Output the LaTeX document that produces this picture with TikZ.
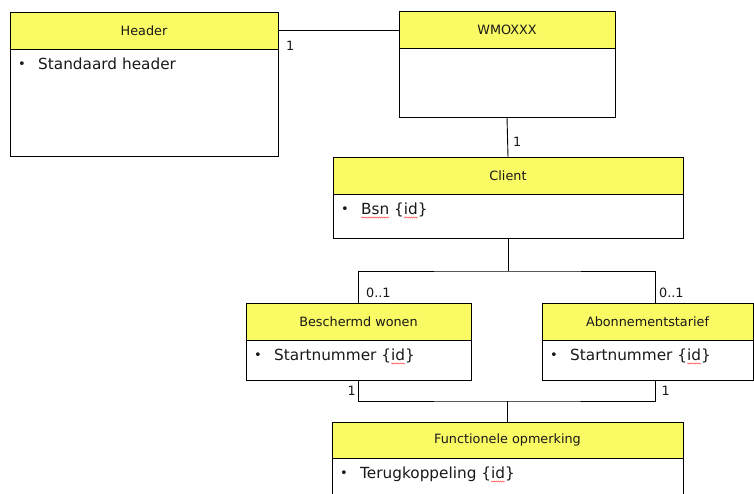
\documentclass[tikz,border=0pt]{standalone}
\usepackage{fontspec}
\setmainfont{DejaVu Sans}
\usetikzlibrary{calc,decorations.pathmorphing}
\definecolor{umlyellow}{RGB}{250,250,100}
\definecolor{ink}{RGB}{25,25,25}
\newlength\spellw
\newcommand\spellwave[1]{\settowidth{\spellw}{#1}\makebox[0pt][l]{\tikz[overlay,baseline=0pt,x=1pt,y=1pt]\draw[red!75, line width=0.45pt, decorate, decoration={snake, amplitude=0.6pt, segment length=2.2pt}] (0,-3) -- (\spellw,-3);}#1}
\tikzset{
  classbox/.style={draw=black, line width=0.9pt, fill=white, anchor=north west, inner sep=0pt, outer sep=0pt},
  classtitle/.style={classbox, fill=umlyellow, text=ink, font=\fontsize{12.8}{14}\selectfont},
  bodytext/.style={anchor=base west, inner sep=0pt, text=ink, font=\fontsize{15.3}{17}\selectfont},
  bulletmark/.style={anchor=base, inner sep=0pt, text=ink, font=\fontsize{13}{15}\selectfont},
  mult/.style={inner sep=0pt, text=ink, font=\fontsize{12.8}{14}\selectfont},
  conn/.style={draw=black, line width=0.9pt}
}
% name, x, y, width, height, band height, title, body
\newcommand\umlclass[8]{%
  \node[classbox, minimum width=#4pt, minimum height=#5pt] (#1) at (#2,#3) {};
  \node[classtitle, minimum width=#4pt, minimum height=#6pt] (#1T) at (#2,#3) {#7};
  \ifx\relax#8\relax\else
  \node[bulletmark] (#1B) at ($(#1T.south west)+(12,19.5)$) {\textbullet};
  \node[bodytext] (#1A) at ($(#1T.south west)+(28,20.5)$) {#8};
  \fi
}
\begin{document}
\begin{tikzpicture}[x=1pt,y=-1pt]
\useasboundingbox (0,0) rectangle (754,494);
\clip (0,0) rectangle (754,494);

\umlclass{header}{10}{12}{268}{144}{37}{Header}{Standaard header}
\umlclass{wmo}{399}{11}{216}{106}{37}{WMOXXX}{}
\umlclass{client}{333}{157}{350}{81}{37}{Client}{\spellwave{Bsn} \{\spellwave{id}\}}
\umlclass{besch}{246}{303}{225}{77}{37}{Beschermd wonen}{Startnummer \{\spellwave{id}\}}
\umlclass{abon}{542}{303}{211}{77}{37}{Abonnementstarief}{Startnummer \{\spellwave{id}\}}
\umlclass{func}{332}{422}{351}{90}{36}{Functionele opmerking}{Terugkoppeling \{\spellwave{id}\}}

\coordinate (abonTop) at ($(abon.north west)+(113,0)$);
\coordinate (abonBot) at ($(abon.south west)+(113,0)$);
\coordinate (upperBus) at ($(client.south)+(0,33)$);
\coordinate (lowerBus) at ($(func.north)+(0,-21)$);

% connectors
\draw[conn] (headerT.east) -- (headerT.east -| wmo.west);
\draw[conn] (wmo.south) -- (client.north);
\draw[conn] (client.south) -- (upperBus);
\draw[conn] (besch.north) |- (upperBus) -| (abonTop);
\draw[conn] (besch.south) |- (lowerBus) -| (abonBot);
\draw[conn] (lowerBus) -- (func.north);

% multiplicities
\node[mult, anchor=west] (m1) at ($(headerT.east)+(8,15)$) {1};
\node[mult, anchor=west] (m2) at ($(wmo.south)+(6,24.5)$) {1};
\node[mult, anchor=west] (m3) at ($(besch.north)+(7.5,-10)$) {0..1};
\node[mult, anchor=west] (m4) at ($(abonTop)+(4,-10)$) {0..1};
\node[mult, anchor=east] (m5) at ($(besch.south)+(-2.5,11)$) {1};
\node[mult, anchor=west] (m6) at ($(abonBot)+(6.5,11)$) {1};
\end{tikzpicture}
\end{document}
